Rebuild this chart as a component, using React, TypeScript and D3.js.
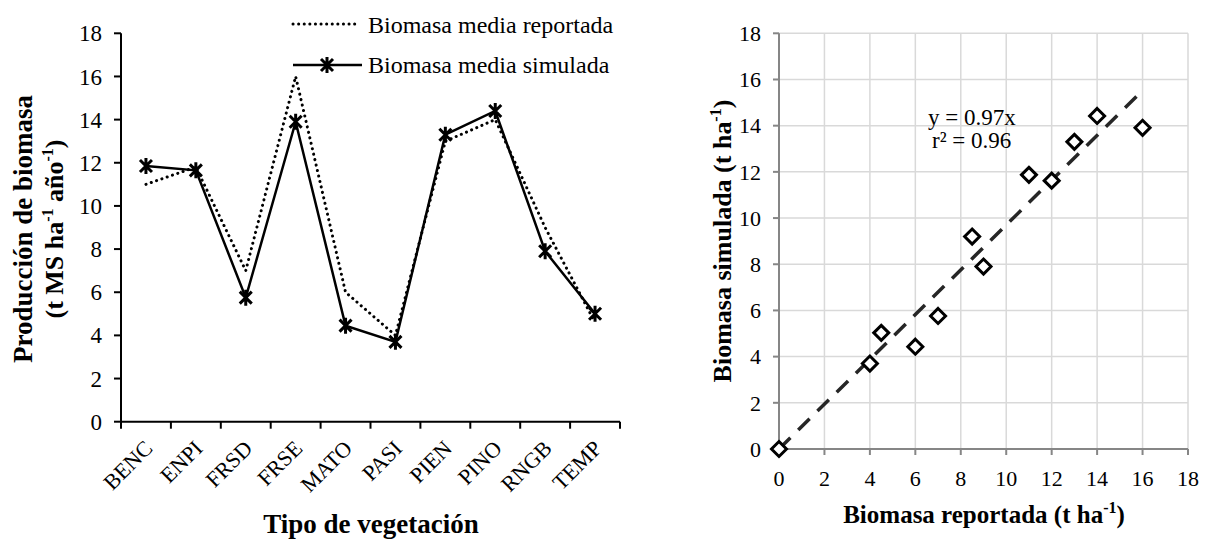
import React from "react";
import * as d3 from "d3";

const categories = ["BENC", "ENPI", "FRSD", "FRSE", "MATO", "PASI", "PIEN", "PINO", "RNGB", "TEMP"];
const reported = [11, 11.8, 7, 16, 6, 4, 13, 14, 9, 4.6];
const simulated = [11.85, 11.65, 5.75, 13.9, 4.45, 3.7, 13.3, 14.4, 7.9, 5.0];
const leftTicks = [0, 2, 4, 6, 8, 10, 12, 14, 16, 18];

const scatterReported = [0, 4, 4.5, 6, 7, 8.5, 9, 11, 12, 13, 14, 16];
const scatterSimulated = [0, 3.7, 5.03, 4.43, 5.76, 9.2, 7.9, 11.87, 11.62, 13.3, 14.42, 13.91];
const rightTicks = [0, 2, 4, 6, 8, 10, 12, 14, 16, 18];
const slope = 0.97;
const trendEnd = 16;

const FONT = "Liberation Serif, Tinos, DejaVu Serif, serif";

function starPath(cx: number, cy: number, r: number) {
  const d = r * 0.75;
  return `M${cx - d},${cy - d}L${cx + d},${cy + d}M${cx - d},${cy + d}L${cx + d},${cy - d}M${cx},${cy - r}L${cx},${cy + r}`;
}

export default function App() {
  // Left chart
  const lx = d3.scaleBand<string>().domain(categories).range([121, 620]);
  const ly = d3.scaleLinear().domain([0, 18]).range([421.7, 33.3]);
  const cx = (c: string) => (lx(c) as number) + lx.bandwidth() / 2;
  const line = d3
    .line<number>()
    .x((_, i) => cx(categories[i]))
    .y((v) => ly(v));

  // Right chart
  const rx = d3.scaleLinear().domain([0, 18]).range([779, 1188]);
  const ry = d3.scaleLinear().domain([0, 18]).range([449, 33.3]);

  const diamond = (x: number, y: number, s: number) =>
    `M${x},${y - s}L${x + s},${y}L${x},${y + s}L${x - s},${y}Z`;

  const bandEdges = categories.map((c) => lx(c) as number).concat([620]);
  const ts = { fontFamily: FONT };

  return (
    <svg width={1220} height={544} style={{ position: "absolute", left: 0, top: 0, background: "#fff", fontFamily: FONT }}>
      <rect x={0} y={0} width={1220} height={544} fill="#fff" />
      {/* ===== Left chart ===== */}
      <g style={ts}>
        {/* axes */}
        <line x1={121} y1={ly(18)} x2={121} y2={ly(0)} stroke="#000" strokeWidth={2} />
        <line x1={121} y1={ly(0)} x2={620} y2={ly(0)} stroke="#000" strokeWidth={2} />
        {leftTicks.map((t) => (
          <g key={"ly" + t}>
            <line x1={114} x2={121} y1={ly(t)} y2={ly(t)} stroke="#000" strokeWidth={2} />
            <text x={102} y={ly(t)} dy="0.35em" textAnchor="end" fontSize={23} style={ts}>
              {t}
            </text>
          </g>
        ))}
        {bandEdges.map((x, i) => (
          <line key={"lxt" + i} x1={x} x2={x} y1={ly(0)} y2={ly(0) + 7} stroke="#000" strokeWidth={2} />
        ))}
        {categories.map((c) => (
          <text
            key={"cat" + c}
            transform={`translate(${cx(c) + 8},${ly(0) + 28}) rotate(-45)`}
            textAnchor="end"
            fontSize={22}
            style={ts}
          >
            {c}
          </text>
        ))}
        {/* series */}
        <path d={line(reported) || ""} fill="none" stroke="#000" strokeWidth={3} strokeDasharray="0.1 5.5" strokeLinecap="round" />
        <path d={line(simulated) || ""} fill="none" stroke="#000" strokeWidth={2.5} />
        {simulated.map((v, i) => (
          <path key={"st" + i} d={starPath(cx(categories[i]), ly(v), 8)} stroke="#000" strokeWidth={3} fill="none" />
        ))}
        {/* legend */}
        <line x1={293} x2={358} y1={24} y2={24} stroke="#000" strokeWidth={3} strokeDasharray="0.1 5.5" strokeLinecap="round" />
        <text x={368} y={33} fontSize={24} style={ts}>Biomasa media reportada</text>
        <line x1={293} x2={362} y1={65} y2={65} stroke="#000" strokeWidth={2.5} />
        <path d={starPath(327, 65, 8)} stroke="#000" strokeWidth={3} fill="none" />
        <text x={368} y={73} fontSize={24} style={ts}>Biomasa media simulada</text>
        {/* titles */}
        <text x={371} y={533} textAnchor="middle" fontSize={27} fontWeight="bold" style={ts}>
          Tipo de vegetación
        </text>
        <text transform={`translate(32,229) rotate(-90)`} textAnchor="middle" fontSize={27} fontWeight="bold" style={ts}>
          Producción de biomasa
        </text>
        <text transform={`translate(63,229) rotate(-90)`} textAnchor="middle" fontSize={26} fontWeight="bold" style={ts}>
          (t MS ha
          <tspan fontSize={16} dy={-10}>-1</tspan>
          <tspan dy={10}> año</tspan>
          <tspan fontSize={16} dy={-10}>-1</tspan>
          <tspan dy={10}>)</tspan>
        </text>
      </g>

      {/* ===== Right chart ===== */}
      <g style={ts}>
        {rightTicks.map((t) => (
          <line key={"gx" + t} x1={rx(t)} x2={rx(t)} y1={ry(0)} y2={ry(18)} stroke="#d9d9d9" strokeWidth={1.5} />
        ))}
        {rightTicks.map((t) => (
          <line key={"gy" + t} x1={rx(0)} x2={rx(18)} y1={ry(t)} y2={ry(t)} stroke="#d9d9d9" strokeWidth={1.5} />
        ))}
        <line x1={rx(0)} x2={rx(0)} y1={ry(0)} y2={ry(18)} stroke="#868686" strokeWidth={2} />
        <line x1={rx(0)} x2={rx(18)} y1={ry(0)} y2={ry(0)} stroke="#868686" strokeWidth={2} />
        {rightTicks.map((t) => (
          <g key={"rt" + t}>
            <line x1={rx(0) - 6} x2={rx(0)} y1={ry(t)} y2={ry(t)} stroke="#868686" strokeWidth={2} />
            <line x1={rx(t)} x2={rx(t)} y1={ry(0)} y2={ry(0) + 6} stroke="#868686" strokeWidth={2} />
            <text x={761} y={ry(t)} dy="0.35em" textAnchor="end" fontSize={22} style={ts}>
              {t}
            </text>
            <text x={rx(t)} y={486} textAnchor="middle" fontSize={22} style={ts}>
              {t}
            </text>
          </g>
        ))}
        {/* trend */}
        <line
          x1={rx(0)}
          y1={ry(0)}
          x2={rx(trendEnd)}
          y2={ry(trendEnd * slope)}
          stroke="#262626"
          strokeWidth={3.5}
          strokeDasharray="16 11"
        />
        {scatterReported.map((x, i) => (
          <path key={"dm" + i} d={diamond(rx(x), ry(scatterSimulated[i]), 7.5)} fill="#fff" stroke="#000" strokeWidth={3} />
        ))}
        <text x={928} y={125} fontSize={23} style={ts}>y = 0.97x</text>
        <text x={932} y={148} fontSize={23} style={ts}>r² = 0.96</text>
        {/* titles */}
        <text x={984} y={523} textAnchor="middle" fontSize={25} fontWeight="bold" style={ts}>
          Biomasa reportada (t ha
          <tspan fontSize={16} dy={-10}>-1</tspan>
          <tspan dy={10}>)</tspan>
        </text>
        <text transform={`translate(731,241) rotate(-90)`} textAnchor="middle" fontSize={26} fontWeight="bold" style={ts}>
          Biomasa simulada (t ha
          <tspan fontSize={16} dy={-10}>-1</tspan>
          <tspan dy={10}>)</tspan>
        </text>
      </g>
    </svg>
  );
}
